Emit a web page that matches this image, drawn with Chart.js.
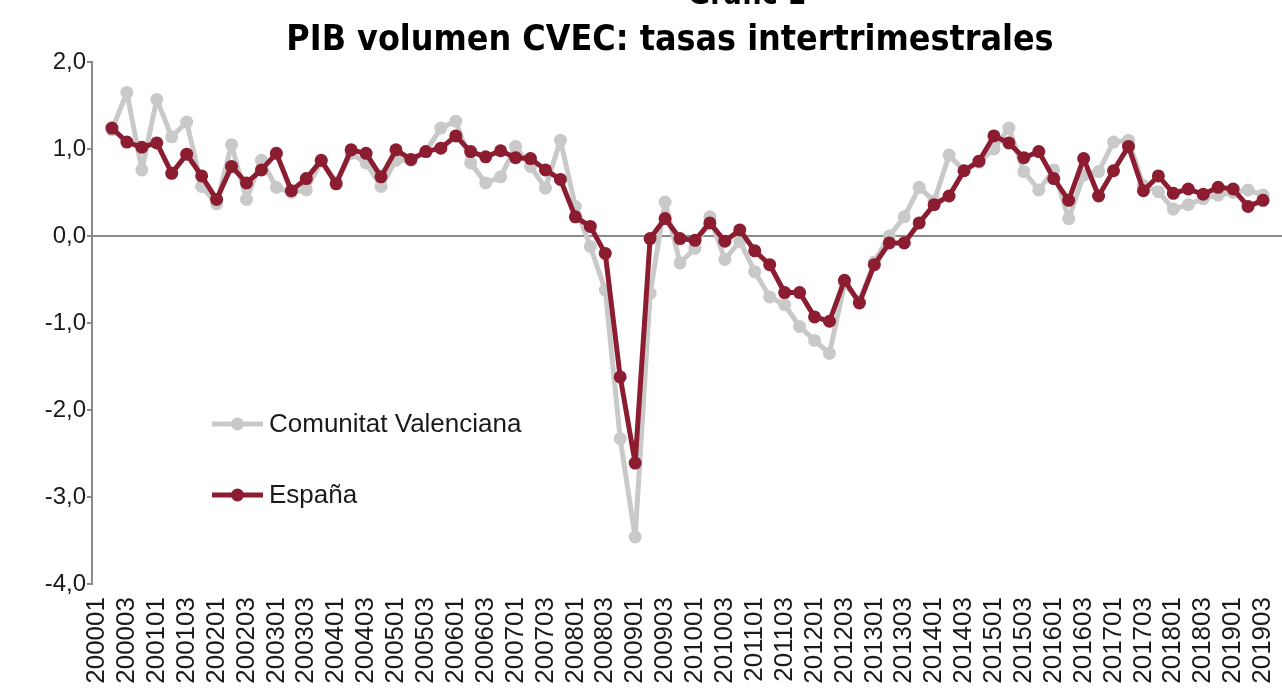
<!DOCTYPE html>
<html>
<head>
<meta charset="utf-8">
<script src="https://cdn.jsdelivr.net/npm/chart.js@4.4.1/dist/chart.umd.min.js"></script>
<style>
  html, body { margin: 0; padding: 0; background: #ffffff; }
  canvas { display: block; }
</style>
</head>
<body>
<canvas id="c" width="1282" height="688"></canvas>
<script>
// ---- Data ----
const periods = [];
for (let y = 2000; y <= 2019; y++) {
  for (let q = 1; q <= 4; q++) {
    if (y === 2019 && q === 4) break;
    periods.push(String(y) + '0' + q);
  }
}
const tickEvery = 2;

const comunitatValenciana = [null,
  1.22, 1.65, 0.76, 1.57, 1.14, 1.31, 0.57, 0.37,
  1.05, 0.42, 0.87, 0.56, 0.50, 0.53, 0.86, 0.62,
  0.95, 0.84, 0.57, 0.87, 0.87, 0.97, 1.24, 1.32,
  0.84, 0.61, 0.68, 1.03, 0.80, 0.55, 1.10, 0.34,
  -0.12, -0.62, -2.33, -3.46, -0.66, 0.39, -0.31, -0.14,
  0.22, -0.27, -0.06, -0.41, -0.70, -0.79, -1.04, -1.20,
  -1.35, -0.55, -0.75, -0.30, 0.00, 0.22, 0.56, 0.40,
  0.93, 0.75, 0.85, 1.00, 1.24, 0.74, 0.53, 0.76,
  0.20, 0.70, 0.74, 1.08, 1.10, 0.58, 0.51, 0.31,
  0.36, 0.43, 0.47, 0.50, 0.53, 0.47];

const espana = [null,
  1.24, 1.08, 1.02, 1.07, 0.72, 0.94, 0.69, 0.42,
  0.80, 0.61, 0.76, 0.95, 0.52, 0.66, 0.87, 0.60,
  0.99, 0.95, 0.68, 0.99, 0.88, 0.97, 1.01, 1.15,
  0.97, 0.91, 0.98, 0.90, 0.89, 0.76, 0.65, 0.22,
  0.11, -0.20, -1.62, -2.61, -0.03, 0.20, -0.03, -0.05,
  0.15, -0.06, 0.07, -0.17, -0.33, -0.65, -0.65, -0.93,
  -0.98, -0.51, -0.77, -0.33, -0.08, -0.08, 0.15, 0.36,
  0.46, 0.75, 0.86, 1.15, 1.07, 0.90, 0.97, 0.66,
  0.41, 0.89, 0.46, 0.75, 1.03, 0.52, 0.69, 0.49,
  0.54, 0.48, 0.56, 0.54, 0.34, 0.41];

const seriesNames = ['Comunitat Valenciana', 'España'];
const yTicks = [-4, -3, -2, -1, 0, 1, 2];
const chartTitle = 'PIB volumen CVEC: tasas intertrimestrales';
const headerText = 'Gràfic 1';

// ---- Styles ----
const GRAY = '#c9c9c9';
const RED = '#8c1c30';
const AXIS = '#8a8a8a';
const FONT = "'Liberation Sans', Arial, sans-serif";
const TITLE_FONT = "'DejaVu Sans Condensed', 'DejaVu Sans', sans-serif";

const toXY = arr => arr.map((v, i) => ({ x: i, y: v }));

const titlePlugin = {
  id: 'titles',
  afterDraw(chart) {
    const ctx = chart.ctx;
    ctx.save();
    ctx.fillStyle = '#000';
    ctx.textAlign = 'center';
    ctx.textBaseline = 'alphabetic';
    ctx.font = 'bold 30px ' + TITLE_FONT;
    ctx.fillText(headerText, 747, 4);
    ctx.font = 'bold 35.5px ' + TITLE_FONT;
    ctx.fillText(chartTitle, 670, 50);
    ctx.restore();
  }
};

const legendPlugin = {
  id: 'innerLegend',
  afterDatasetsDraw(chart) {
    const ctx = chart.ctx;
    const rows = [424, 495];
    ctx.save();
    chart.data.datasets.forEach((ds, i) => {
      const y = rows[i];
      ctx.strokeStyle = ds.borderColor;
      ctx.lineWidth = ds.borderWidth;
      ctx.beginPath();
      ctx.moveTo(212, y);
      ctx.lineTo(263, y);
      ctx.stroke();
      ctx.fillStyle = ds.pointBackgroundColor;
      ctx.beginPath();
      ctx.arc(237.5, y, ds.pointRadius, 0, Math.PI * 2);
      ctx.fill();
      ctx.fillStyle = '#1a1a1a';
      ctx.font = '26px ' + FONT;
      ctx.textAlign = 'left';
      ctx.textBaseline = 'middle';
      ctx.fillText(ds.label, 269, y + 1);
    });
    ctx.restore();
  }
};

const lineStyle = {
  borderWidth: 5,
  pointRadius: 6.5,
  pointBorderWidth: 0,
  borderJoinStyle: 'round',
  borderCapStyle: 'round'
};

new Chart(document.getElementById('c'), {
  type: 'line',
  data: {
    datasets: [
      Object.assign({
        label: seriesNames[0],
        data: toXY(comunitatValenciana),
        borderColor: GRAY,
        backgroundColor: GRAY,
        pointBackgroundColor: GRAY,
        pointBorderColor: GRAY,
        order: 1
      }, lineStyle),
      Object.assign({
        label: seriesNames[1],
        data: toXY(espana),
        borderColor: RED,
        backgroundColor: RED,
        pointBackgroundColor: RED,
        pointBorderColor: RED,
        order: 0
      }, lineStyle)
    ]
  },
  options: {
    responsive: false,
    animation: false,
    devicePixelRatio: 1,
    layout: { autoPadding: false, padding: { left: 0, right: 0, top: 62, bottom: 0 } },
    plugins: {
      legend: { display: false },
      tooltip: { enabled: false },
      title: { display: false }
    },
    scales: {
      x: {
        type: 'linear',
        min: -0.334,
        max: 79.27,
        grid: { display: false, drawTicks: false },
        border: { display: false },
        afterBuildTicks(scale) {
          scale.ticks = periods.map((p, i) => ({ value: i })).filter(t => t.value % tickEvery === 0);
        },
        afterFit(scale) {
          scale.height = 104;
          scale.paddingLeft = 0;
          scale.paddingRight = 0;
        },
        ticks: {
          autoSkip: false,
          maxRotation: 90,
          minRotation: 90,
          padding: 13,
          color: '#1a1a1a',
          font: { family: FONT, size: 26 },
          callback: v => periods[v]
        }
      },
      y: {
        min: -4,
        max: 2,
        afterBuildTicks(scale) {
          scale.ticks = yTicks.map(v => ({ value: v }));
        },
        afterFit(scale) {
          scale.width = 92;
          scale.paddingTop = 0;
          scale.paddingBottom = 0;
        },
        border: { display: true, color: AXIS, width: 2 },
        grid: {
          drawOnChartArea: true,
          color: c => (c.tick && c.tick.value === 0 ? AXIS : 'rgba(0,0,0,0)'),
          lineWidth: 2,
          tickColor: AXIS,
          tickWidth: 2,
          tickLength: 5
        },
        ticks: {
          padding: 1,
          color: '#1a1a1a',
          font: { family: FONT, size: 24 },
          callback: v => v.toFixed(1).replace('.', ',')
        }
      }
    }
  },
  plugins: [titlePlugin, legendPlugin]
});
</script>
</body>
</html>
